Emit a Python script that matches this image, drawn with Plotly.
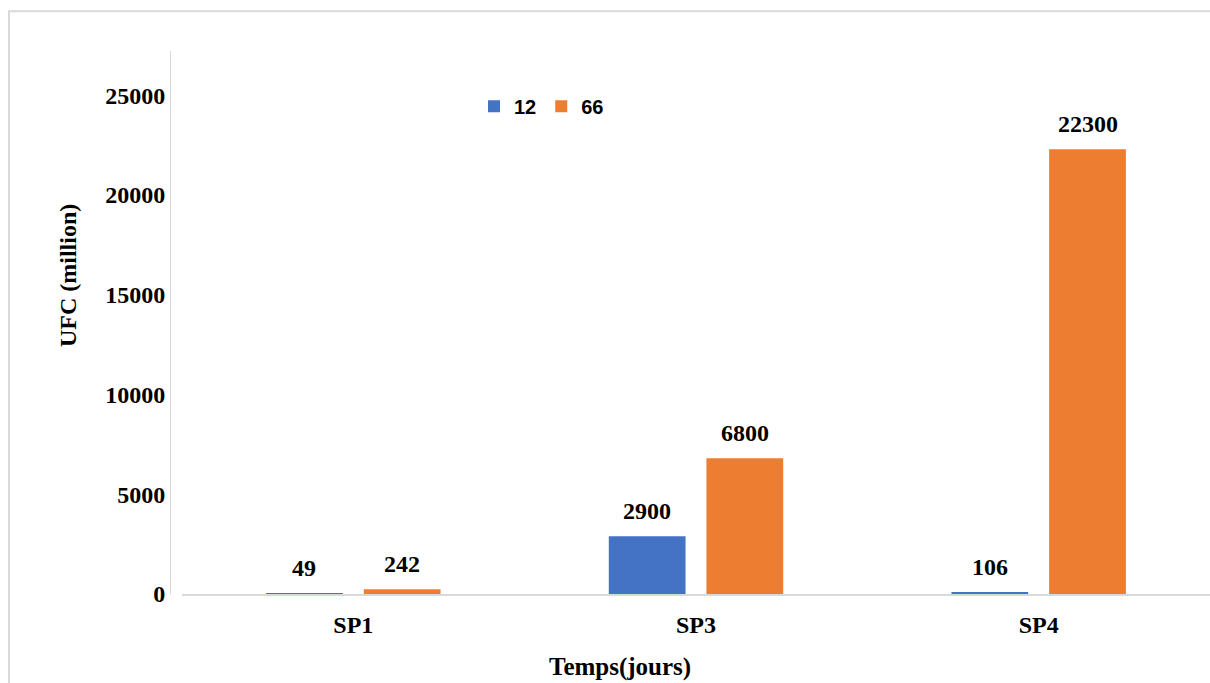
import plotly.graph_objects as go

categories = ["SP1", "SP3", "SP4"]
series_names = ["12", "66"]
values_12 = [49, 2900, 106]
values_66 = [242, 6800, 22300]
ytick_vals = [0, 5000, 10000, 15000, 20000, 25000]

BLUE = "#4472C4"
ORANGE = "#ED7D31"
GRID = "#D9D9D9"
SERIF = "Liberation Serif"

fig = go.Figure()
fig.add_trace(go.Bar(x=categories, y=values_12, name=series_names[0],
                     marker=dict(color=BLUE, line=dict(width=0))))
fig.add_trace(go.Bar(x=categories, y=values_66, name=series_names[1],
                     marker=dict(color=ORANGE, line=dict(width=0))))

annotations = []
for vals, shift in ((values_12, -49), (values_66, 49)):
    for c, v in zip(categories, vals):
        annotations.append(dict(
            x=c, y=v, xref="x", yref="y", text=str(v), showarrow=False,
            xshift=shift, yshift=25, yanchor="middle", xanchor="center",
            font=dict(family=SERIF, size=24, color="black", weight="bold")))

# axis titles
annotations.append(dict(
    x=(68 - 170) / 1040, y=(594.3 - 276) / 543.6, xref="paper", yref="paper",
    text="UFC (million)", textangle=-90, showarrow=False,
    xanchor="center", yanchor="middle",
    font=dict(family=SERIF, size=24, color="black", weight="bold")))
annotations.append(dict(
    x=(620 - 170) / 1040, y=(594.3 - 667) / 543.6, xref="paper", yref="paper",
    text="Temps(jours)", showarrow=False,
    xanchor="center", yanchor="middle",
    font=dict(family=SERIF, size=25, color="black", weight="bold")))

fig.update_layout(
    width=1210, height=683,
    margin=dict(l=170, r=0, t=51, b=89, pad=0),
    paper_bgcolor="white", plot_bgcolor="white",
    barmode="group", bargap=0.43, bargroupgap=0.214,
    showlegend=True,
    legend=dict(orientation="h", x=(474 - 170) / 1040, y=(594.3 - 106) / 543.6,
                xanchor="left", yanchor="middle",
                font=dict(family="Liberation Sans", size=20, color="black", weight="bold"),
                bgcolor="rgba(0,0,0,0)", itemclick=False),
    xaxis=dict(domain=[(182 - 170) / 1040, 1], showline=True, linecolor=GRID, linewidth=2,
               showgrid=False, ticks="", zeroline=False, ticklabelstandoff=8,
               tickfont=dict(family=SERIF, size=24, color="black", weight="bold")),
    yaxis=dict(range=[0, 27220], anchor="free", position=0, showline=True,
               linecolor=GRID, linewidth=1, showgrid=False, zeroline=False,
               ticks="", tickvals=ytick_vals, ticktext=[str(v) for v in ytick_vals],
               tickfont=dict(family=SERIF, size=24, color="black", weight="bold")),
    annotations=annotations,
    shapes=[dict(type="rect", xref="paper", yref="paper",
                 x0=(9 - 170) / 1040, x1=1.05,
                 y0=-0.3, y1=(594.3 - 11) / 543.6,
                 line=dict(color=GRID, width=2), fillcolor="rgba(0,0,0,0)",
                 layer="below")],
)

fig.write_html("out.html")
